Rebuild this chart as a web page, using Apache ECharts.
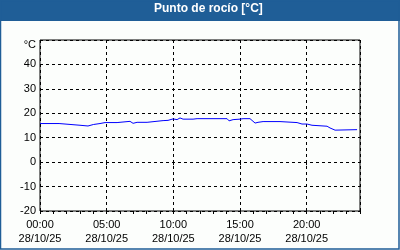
<!DOCTYPE html>
<html>
<head>
<meta charset="utf-8">
<script src="https://cdn.jsdelivr.net/npm/echarts@6/dist/echarts.min.js"></script>
<style>
html,body{margin:0;padding:0;background:#fcfefc;}
#c{width:400px;height:250px;}
</style>
</head>
<body>
<div id="c"></div>
<script>
var titleText = 'Punto de rocío [°C]';
var dateLabel = '28/10/25';
var unitLabel = '°C';
var hours = [0, 1.43, 1.58, 3.0, 3.15, 3.6, 4.0, 4.5, 4.88, 5.03, 5.25, 5.78, 5.85, 6.75, 6.98, 7.28, 8.03, 8.18, 9.23, 9.38, 9.6, 9.98, 10.28, 10.5, 10.73, 11.48, 11.63, 11.78, 14.03, 14.18, 14.48, 15.0, 15.23, 15.75, 15.9, 16.13, 16.35, 16.73, 18.0, 18.15, 19.28, 19.43, 19.65, 20.03, 20.18, 20.4, 20.55, 21.53, 21.75, 22.13, 22.28, 23.78];
var dewPoint = [15.8, 15.8, 15.2, 15.1, 15.8, 14.8, 15.4, 15.8, 16.2, 16.6, 16.2, 16.2, 16.7, 16.7, 15.9, 16.3, 16.3, 17.0, 17.0, 17.4, 17.1, 17.7, 17.4, 18.1, 17.6, 17.6, 18.1, 17.8, 17.8, 16.9, 17.4, 17.6, 17.8, 17.8, 17.1, 16.0, 16.3, 16.6, 16.6, 16.2, 16.2, 15.9, 15.6, 15.6, 15.1, 15.1, 14.7, 14.7, 14.0, 13.1, 13.3, 13.3];

var data = hours.map(function(h, i){ return [h, dewPoint[i]]; });
function pad(n){ return (n < 10 ? '0' : '') + n; }
var font = 'Liberation Sans';

var chart = echarts.init(document.getElementById('c'), null, {renderer:'canvas'});
chart.setOption({
  animation: false,
  backgroundColor: '#fcfefc',
  graphic: [
    {type:'rect', shape:{x:0, y:0, width:400, height:21}, style:{fill:'#1f5e97'}, z:0},
    {type:'rect', shape:{x:0.5, y:0.5, width:398.5, height:248.5}, style:{fill:'none', stroke:'#1f5e97', lineWidth:1.5}, z:0},
    {type:'text', left:154, top:3, style:{text:titleText, fill:'#ffffff', font:'bold 12px "Liberation Sans"'}, z:1}
  ],
  grid: {left:40, right:40, top:40, bottom:39, show:true, borderColor:'#000', borderWidth:1, backgroundColor:'transparent'},
  xAxis: [{
    type:'value', min:0, max:24, interval:5,
    axisLine:{show:false},
    axisTick:{show:true, length:3, lineStyle:{color:'#000'}},
    splitLine:{show:true, lineStyle:{color:'#000', type:[3,3], width:1}},
    axisLabel:{
      color:'#000', fontFamily:font, fontSize:11, lineHeight:14, margin:7,
      showMaxLabel:false,
      formatter:function(v){ return v >= 24 ? '' : pad(v) + ':00\n' + dateLabel; }
    }
  },{
    type:'value', min:0, max:24, interval:1, position:'bottom',
    axisLine:{show:false},
    axisTick:{show:true, length:3, lineStyle:{color:'#000'}},
    splitLine:{show:false},
    axisLabel:{show:false}
  }],
  yAxis: {
    type:'value', min:-20, max:50, interval:10,
    axisLine:{show:false},
    axisTick:{show:false},
    splitLine:{show:true, lineStyle:{color:'#000', type:[3,3], width:1}},
    axisLabel:{
      color:'#000', fontFamily:font, fontSize:11, margin:4,
      formatter:function(v){ return v === 50 ? '{u|' + unitLabel + '}' : String(v); },
      rich:{u:{color:'#000', fontFamily:font, fontSize:11, padding:[10,0,0,0]}}
    }
  },
  series: [{
    type:'line', data:data, xAxisIndex:0, showSymbol:false, symbol:'none',
    lineStyle:{color:'#0000ff', width:1}, itemStyle:{color:'#0000ff'}
  }]
});
</script>
</body>
</html>
